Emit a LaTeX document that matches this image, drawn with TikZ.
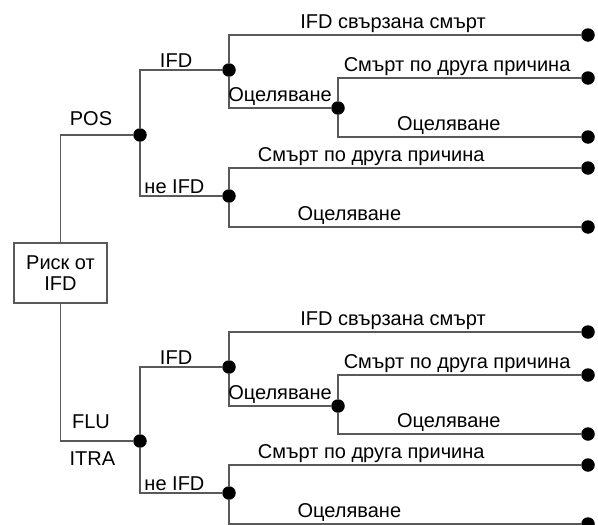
\documentclass[tikz,border=0pt]{standalone}
\usepackage{fontspec}
\setmainfont{Liberation Sans}
\tikzset{dot/.style = {shape=circle,fill=black,inner sep=0pt,minimum size=13.5pt}}
\tikzset{riskbox/.style = {shape=rectangle,draw=black!65,line width=1.2pt,minimum width=93pt,minimum height=60pt,align=center,inner sep=1pt}}
\tikzset{branch/.style = {draw=black!65,line width=1.3pt}}
\tikzset{lbl/.style = {font=\fontsize{20}{21}\selectfont,inner sep=1.5pt}}

\begin{document}
\begin{tikzpicture}[x=1pt,y=-1pt]
\useasboundingbox (0,0) rectangle (598,525);

\node[riskbox,lbl] (R) at (60.5,273) {Риск от\\IFD};

\node[dot] (P1) at (140,135) {};
\node[dot] (A1) at (229,70) {};
\node[dot] (N1) at (229,196) {};
\node[dot] (C1) at (338,108) {};
\node[dot] (L1) at (588,35) {};
\node[dot] (L2) at (588,78) {};
\node[dot] (L3) at (588,137) {};
\node[dot] (L4) at (588,168) {};
\node[dot] (L5) at (588,227) {};

\node[dot] (P2) at (140,441) {};
\node[dot] (A2) at (229,367) {};
\node[dot] (N2) at (229,493) {};
\node[dot] (C2) at (338,406) {};
\node[dot] (M1) at (588,332) {};
\node[dot] (M2) at (588,375) {};
\node[dot] (M3) at (588,434) {};
\node[dot] (M4) at (588,465) {};
\node[dot] (M5) at (588,524) {};

\draw[branch] (R) |- (P1) node[lbl,above,pos=0.71,yshift=7pt] {POS};
\draw[branch] (P1) |- (A1) node[lbl,above,pos=0.72] {IFD};
\draw[branch] (P1) |- (N1) node[lbl,above,pos=0.71] {не IFD};
\draw[branch] (A1) |- (L1) node[lbl,above,pos=0.733] {IFD свързана смърт};
\draw[branch] (A1) |- (C1) node[lbl,above,pos=0.75] {Оцеляване};
\draw[branch] (C1) |- (L2) node[lbl,above,pos=0.745] {Смърт по друга причина};
\draw[branch] (C1) |- (L3) node[lbl,above,pos=0.728] {Оцеляване};
\draw[branch] (N1) |- (L4) node[lbl,above,pos=0.702] {Смърт по друга причина};
\draw[branch] (N1) |- (L5) node[lbl,above,pos=0.671] {Оцеляване};

\draw[branch] (R) |- (P2) node[lbl,above,pos=0.71,yshift=10pt] {FLU} node[lbl,below,pos=0.72,yshift=-9pt] {ITRA};
\draw[branch] (P2) |- (A2) node[lbl,above,pos=0.72] {IFD};
\draw[branch] (P2) |- (N2) node[lbl,above,pos=0.71] {не IFD};
\draw[branch] (A2) |- (M1) node[lbl,above,pos=0.733] {IFD свързана смърт};
\draw[branch] (A2) |- (C2) node[lbl,above,pos=0.75] {Оцеляване};
\draw[branch] (C2) |- (M2) node[lbl,above,pos=0.745] {Смърт по друга причина};
\draw[branch] (C2) |- (M3) node[lbl,above,pos=0.728] {Оцеляване};
\draw[branch] (N2) |- (M4) node[lbl,above,pos=0.702] {Смърт по друга причина};
\draw[branch] (N2) |- (M5) node[lbl,above,pos=0.671] {Оцеляване};
\end{tikzpicture}
\end{document}
